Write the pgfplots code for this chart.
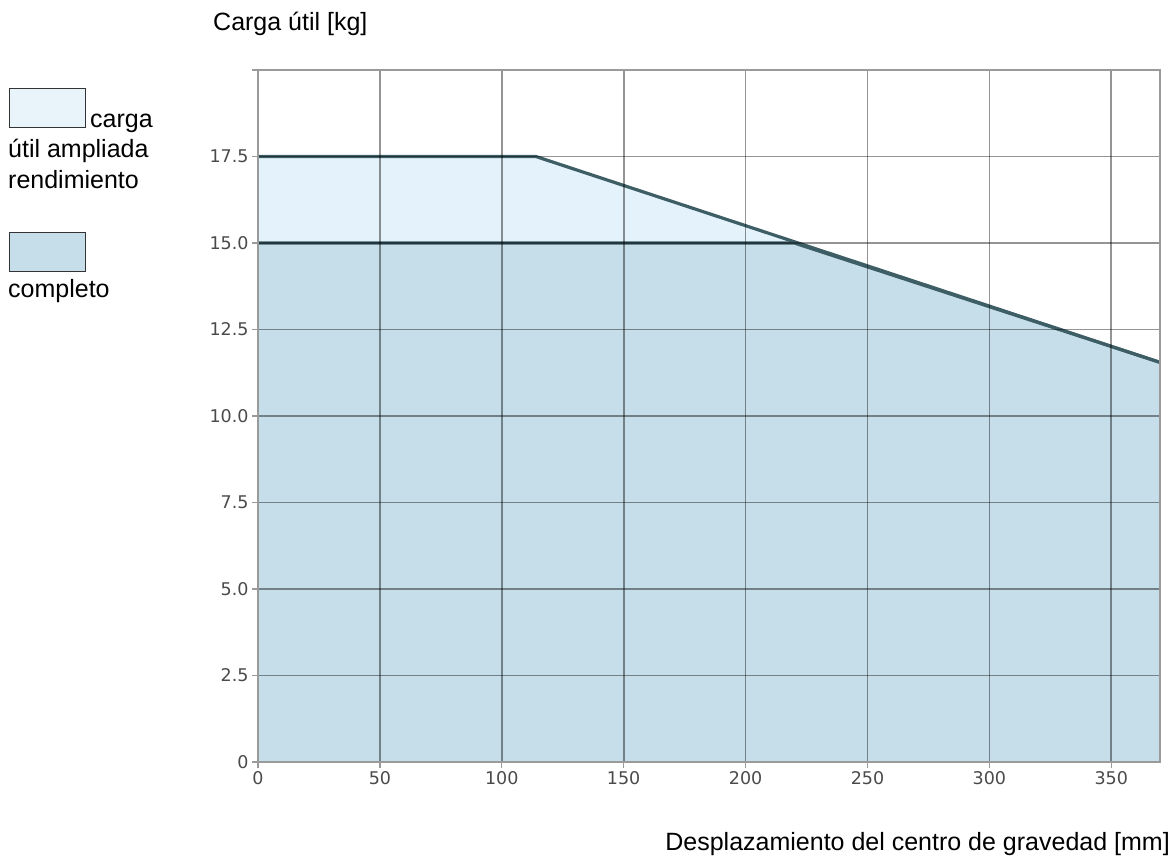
\documentclass[border=0pt]{standalone}
\usepackage{fontspec}
\setmainfont{Liberation Sans}
\newfontfamily\tickfont{DejaVu Sans}
\usepackage{pgfplots}
\pgfplotsset{compat=1.18}
\definecolor{perffill}{HTML}{E3F2FB}
\definecolor{fullfill}{HTML}{C5DEEA}
\definecolor{curve}{HTML}{3E5E66}
\definecolor{frame}{HTML}{9A9A9A}
\definecolor{ticktext}{HTML}{4A4A4A}
\definecolor{boxA}{HTML}{E8F4FA}
\definecolor{boxB}{HTML}{C6DEEA}
\begin{document}
\begin{tikzpicture}
\path[use as bounding box] (0,0) rectangle (1176pt,-859pt);
\begin{axis}[
  at={(258pt,-762pt)}, anchor=south west,
  scale only axis, width=902pt, height=692pt,
  xmin=0, xmax=370, ymin=0, ymax=20,
  xtick={0,50,100,150,200,250,300,350},
  xticklabels={0,50,100,150,200,250,300,350},
  ytick={0,2.5,5,7.5,10,12.5,15,17.5,20},
  yticklabels={0,2.5,5.0,7.5,10.0,12.5,15.0,17.5,},
  grid=major,
  major grid style={draw=black, opacity=0.42, line width=1.7pt},
  axis on top,
  axis line style={draw=frame, line width=1.8pt},
  tick align=outside, major tick length=6pt,
  tick style={draw=frame, line width=1.4pt},
  xtick pos=bottom, ytick pos=left,
  ticklabel style={font=\tickfont\fontsize{17.5}{17.5}\selectfont, text=ticktext},
]
\addplot[fill=perffill, draw=none] coordinates {(0,0) (0,17.5) (114,17.5) (370,11.55) (370,0)} -- cycle;
\addplot[fill=fullfill, draw=none] coordinates {(0,0) (0,15) (220,15) (370,11.55) (370,0)} -- cycle;
\addplot[draw=curve, line width=3.2pt] coordinates {(0,17.5) (114,17.5) (370,11.55)};
\addplot[draw=curve, line width=3.2pt] coordinates {(0,15) (220,15) (370,11.55)};
\end{axis}
\node[anchor=base west, inner sep=0, font=\fontsize{25}{25}\selectfont] at (213pt,-31pt) {Carga útil [kg]};
\node[anchor=base east, inner sep=0, font=\fontsize{25}{25}\selectfont] at (1170pt,-850pt) {Desplazamiento del centro de gravedad [mm]};
\draw[draw=black!80, line width=0.9pt, fill=boxA] (9pt,-88pt) rectangle (85pt,-127pt);
\draw[draw=black!80, line width=0.9pt, fill=boxB] (9pt,-232pt) rectangle (85pt,-271pt);
\begin{scope}[every node/.style={anchor=base west, inner sep=0, font=\fontsize{25}{25}\selectfont}]
\node at (90pt,-127pt) {carga};
\node at (8pt,-157pt) {útil ampliada};
\node at (8pt,-188pt) {rendimiento};
\node at (8pt,-297pt) {completo};
\end{scope}
\end{tikzpicture}
\end{document}
